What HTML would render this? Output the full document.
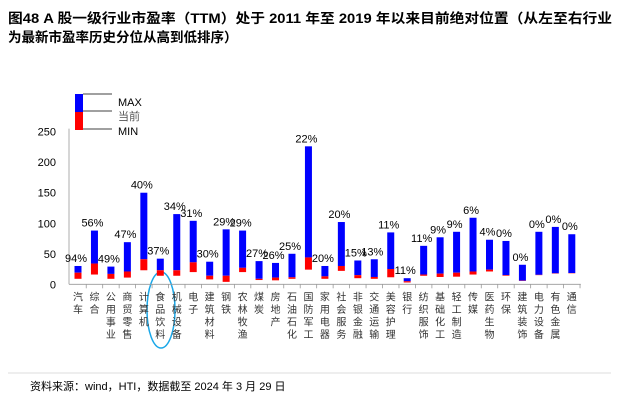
<!DOCTYPE html>
<html><head><meta charset="utf-8"><style>
body{margin:0;background:#fff;width:619px;height:412px;overflow:hidden}
svg{display:block;font-family:"Liberation Sans","Noto Sans CJK SC",sans-serif}
</style></head><body>
<svg id="c" width="619" height="412">
<text x="8" y="23" font-size="13.5" font-weight="bold" textLength="604" lengthAdjust="spacingAndGlyphs">图48 A 股一级行业市盈率（TTM）处于 2011 年至 2019 年以来目前绝对位置（从左至右行业</text>
<text x="8" y="42" font-size="13.5" font-weight="bold">为最新市盈率历史分位从高到低排序）</text>
<g>
<rect x="75" y="94" width="8" height="18" fill="#0000ff"/>
<rect x="75" y="112" width="8" height="18" fill="#ff0000"/>
<line x1="83" y1="94" x2="112" y2="94" stroke="#000" stroke-width="0.8"/>
<line x1="83" y1="111" x2="112" y2="111" stroke="#000" stroke-width="0.8"/>
<line x1="83" y1="129" x2="112" y2="129" stroke="#000" stroke-width="0.8"/>
<text x="118" y="106" font-size="11">MAX</text>
<text x="118" y="120" font-size="11" fill="#555">当前</text>
<text x="118" y="135" font-size="11">MIN</text>
</g>
<ellipse cx="161" cy="310" rx="14" ry="38" fill="none" stroke="#1aa7e8" stroke-width="1.5"/>
<line x1="8" y1="373" x2="611" y2="373" stroke="#bbb" stroke-width="0.6"/>
<text x="30" y="390" font-size="11">资料来源：wind，HTI，数据截至 2024 年 3 月 29 日</text>
</svg>
<script>
const categories=["汽车","综合","公用事业","商贸零售","计算机","食品饮料","机械设备","电子","建筑材料","钢铁","农林牧渔","煤炭","房地产","石油石化","国防军工","家用电器","社会服务","非银金融","交通运输","美容护理","银行","纺织服饰","基础化工","轻工制造","传媒","医药生物","环保","建筑装饰","电力设备","有色金属","通信"];
const maxVals=[30,88,29,69,150,42,115,104,37,90,88,38,35,50,226,30,102,39,41,85,10,63,77,86,109,73,71,32,86,94,82];
const curVals=[19,34,17,21,41,23,23,36,14,14,27,9,11,11.5,44,13,30,15,12,25,5,16,17.5,19,21,24,15,6,15.5,18,18.5];
const minVals=[9,16,9,11,23,14,14,20,8,4,20,7,6.5,9,24,9,22,10,9,11.5,3,14,12,12.5,16,21,14,5.5,15,17.5,18];
const pctLabels=["94%","56%","49%","47%","40%","37%","34%","31%","30%","29%","29%","27%","26%","25%","22%","20%","20%","15%","13%","11%","11%","11%","9%","9%","6%","4%","0%","0%","0%","0%","0%"];
const yTicks=[0,50,100,150,200,250];
const svg=document.getElementById('c'),NS="http://www.w3.org/2000/svg";
const x0=78,step=16.46,y0=284.3,ky=0.6105;
const xs=i=>x0+i*step, ys=v=>y0-v*ky;
function mk(t,a){const e=document.createElementNS(NS,t);for(const k in a)e.setAttribute(k,a[k]);svg.appendChild(e);return e;}
let ax=mk('line',{x1:69,y1:ys(250)-3,x2:69,y2:y0,stroke:'#999','stroke-width':0.8});


let bx=mk('line',{x1:69,y1:y0,x2:xs(30)+9,y2:y0,stroke:'#999','stroke-width':0.8});


yTicks.forEach(t=>{
 const l=mk('text',{x:56,y:ys(t)+4,'font-size':11,'text-anchor':'end'});l.textContent=t;
 
 
});
categories.forEach((c,i)=>{
 const x=xs(i);
 mk('line',{x1:x+step/2,y1:y0,x2:x+step/2,y2:y0+4,stroke:'#999','stroke-width':0.8});
 const b=mk('rect',{x:x-3.5,y:ys(maxVals[i]),width:7,height:ys(curVals[i])-ys(maxVals[i]),fill:'#0000ff'});
 
 
 const r=mk('rect',{x:x-3.5,y:ys(curVals[i]),width:7,height:ys(minVals[i])-ys(curVals[i]),fill:'#ff0000'});
 
 
 const p=mk('text',{x:x-2,y:ys(maxVals[i])-4,'font-size':11,'text-anchor':'middle'});p.textContent=pctLabels[i];
 
 
 [...c].forEach((ch,j)=>{
  const t=mk('text',{x:x,y:y0+16+j*12.5,'font-size':10,'text-anchor':'middle',fill:'#333'});t.textContent=ch;
  
  
 });
});
</script>
</body></html>
